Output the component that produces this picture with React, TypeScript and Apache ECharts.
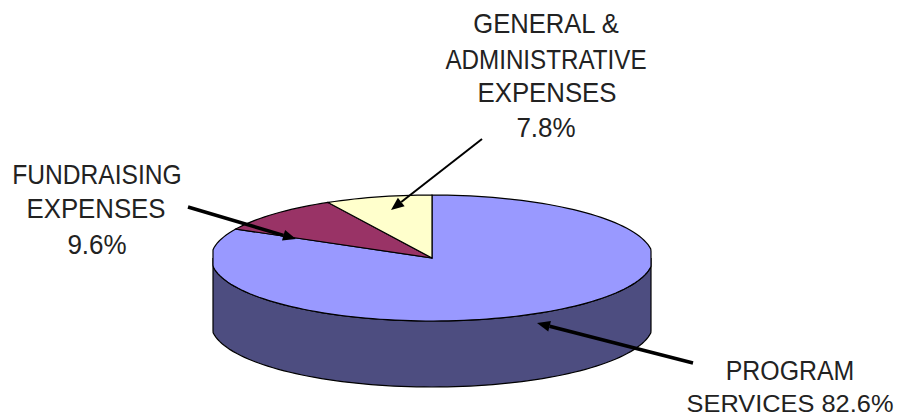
import React, { useEffect, useRef } from "react";
import * as echarts from "echarts";

const sliceNames = ["PROGRAM SERVICES", "FUNDRAISING EXPENSES", "GENERAL & ADMINISTRATIVE EXPENSES"];
const sliceValues = [82.6, 9.6, 7.8];
const sliceColors = ["#9999ff", "#993366", "#ffffcc"];
const wallColors = ["#4d4d80", "#4d1a33", "#808066"];

const CX = 432, CY = 258, RX = 221, RY = 63, DEPTH = 66, XCLAMP = 219;
const FONT = "'Liberation Sans', Arial, sans-serif";

const pt = (deg: number, dy = 0) => {
  const a = (deg * Math.PI) / 180;
  const dx = Math.max(-XCLAMP, Math.min(XCLAMP, RX * Math.sin(a)));
  return [CX + dx, CY - RY * Math.cos(a) + dy];
};
const arcPts = (a0: number, a1: number, dy = 0) => {
  const n = Math.max(2, Math.ceil(Math.abs(a1 - a0) / 2));
  const out: number[][] = [];
  for (let i = 0; i <= n; i++) out.push(pt(a0 + ((a1 - a0) * i) / n, dy));
  return out;
};

const total = sliceValues.reduce((s, v) => s + v, 0);
const starts: number[] = [];
sliceValues.reduce((acc, v, i) => {
  starts[i] = acc;
  return acc + (v / total) * 360;
}, 0);

const renderItem = (_params: any, api: any) => {
  const i = _params.dataIndex;
  const a0 = starts[i];
  const a1 = a0 + (api.value(0) / total) * 360;
  const stroke = { stroke: "#000", lineWidth: 1.2 };
  const children: any[] = [];
  const w0 = Math.max(a0, 90), w1 = Math.min(a1, 270);
  if (w1 > w0) {
    children.push({
      type: "polygon",
      shape: { points: [...arcPts(w0, w1), ...arcPts(w1, w0, DEPTH)] },
      style: { fill: wallColors[i], ...stroke },
    });
  }
  children.push({
    type: "polygon",
    shape: { points: [[CX, CY], ...arcPts(a0, a1)] },
    style: { fill: sliceColors[i], ...stroke },
  });
  return { type: "group", children };
};

const arrow = (x1: number, y1: number, x2: number, y2: number, w: number) => {
  const ang = Math.atan2(y2 - y1, x2 - x1);
  const len = 13, half = 5.5;
  const bx = x2 - len * Math.cos(ang), by = y2 - len * Math.sin(ang);
  const nx = -Math.sin(ang) * half, ny = Math.cos(ang) * half;
  return [
    { type: "line", z: 100, shape: { x1, y1, x2: bx, y2: by }, style: { stroke: "#000", lineWidth: w } },
    { type: "polygon", z: 100, shape: { points: [[x2, y2], [bx + nx, by + ny], [bx - nx, by - ny]] }, style: { fill: "#000" } },
  ];
};

const label = (text: string, x: number, y: number, sx: number, sy = 1.38) => ({
  type: "text",
  z: 100,
  x,
  y,
  scaleX: sx,
  scaleY: sy,
  style: { text, font: `20px ${FONT}`, fill: "#222", textAlign: "center", textVerticalAlign: "middle" },
});

export default function App() {
  const ref = useRef<HTMLDivElement>(null);
  useEffect(() => {
    const chart = echarts.init(ref.current!, null, { renderer: "svg" });
    chart.setOption({
      animation: false,
      backgroundColor: "#fff",
      series: [
        {
          type: "custom",
          coordinateSystem: "none",
          renderItem,
          data: sliceValues.map((v, i) => ({ name: sliceNames[i], value: [v] })),
          z: 1,
        },
      ],
      graphic: [
        label("GENERAL &", 546, 24, 1.28),
        label("ADMINISTRATIVE", 546, 59, 1.21),
        label("EXPENSES", 547, 93, 1.29),
        label("7.8%", 546, 128, 1.3),
        label("FUNDRAISING", 97, 174, 1.23),
        label("EXPENSES", 96, 209, 1.29),
        label("9.6%", 97, 245, 1.3),
        label("PROGRAM", 790, 371, 1.245),
        label("SERVICES 82.6%", 790, 403, 1.27, 1.22),
        ...arrow(482, 139, 391, 210, 2),
        ...arrow(188, 207, 296, 239, 3.5),
        ...arrow(693, 363, 537, 323, 3.5),
      ],
    });
    return () => chart.dispose();
  }, []);
  return <div ref={ref} style={{ width: 899, height: 416, position: "absolute", left: 0, top: 0 }} />;
}
